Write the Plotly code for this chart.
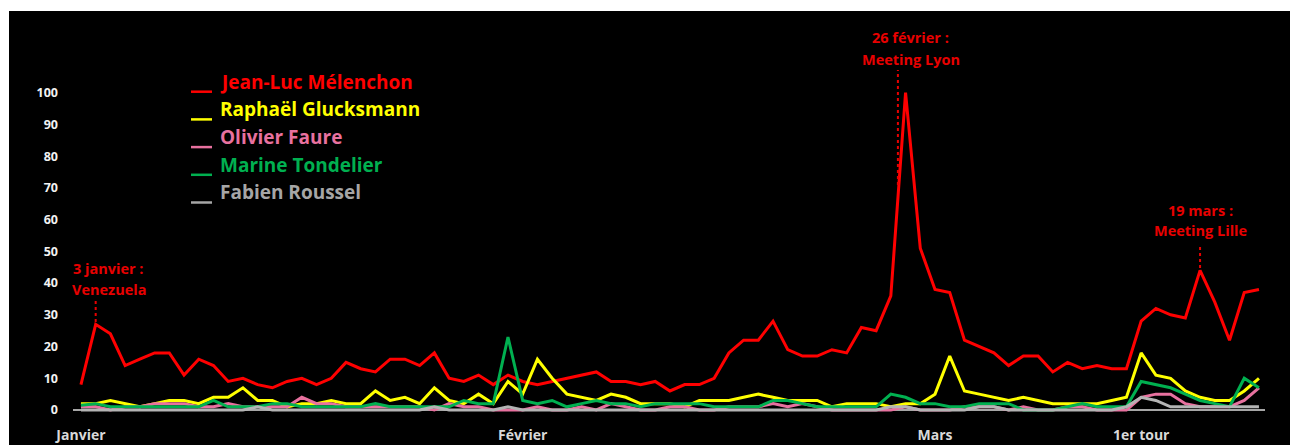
import pandas as pd
import plotly.graph_objects as go

# ---------------- data ----------------
dates = pd.date_range("2026-01-02", "2026-03-23", freq="D")

melenchon = [8, 27, 24, 14, 16, 18, 18, 11, 16, 14,
             9, 10, 8, 7, 9, 10, 8, 10, 15, 13,
             12, 16, 16, 14, 18, 10, 9, 11, 8, 11,
             9, 8, 9, 10, 11, 12, 9, 9, 8, 9,
             6, 8, 8, 10, 18, 22, 22, 28, 19, 17,
             17, 19, 18, 26, 25, 36, 100, 51, 38, 37,
             22, 20, 18, 14, 17, 17, 12, 15, 13, 14,
             13, 13, 28, 32, 30, 29, 44, 34, 22, 37, 38]

glucksmann = [2, 2, 3, 2, 1, 2, 3, 3, 2, 4,
              4, 7, 3, 3, 1, 2, 2, 3, 2, 2,
              6, 3, 4, 2, 7, 3, 2, 5, 2, 9,
              5, 16, 10, 5, 4, 3, 5, 4, 2, 2,
              2, 1, 3, 3, 3, 4, 5, 4, 3, 3,
              3, 1, 2, 2, 2, 1, 2, 2, 5, 17,
              6, 5, 4, 3, 4, 3, 2, 2, 2, 2,
              3, 4, 18, 11, 10, 6, 4, 3, 3, 6, 10]

faure = [1, 1, 0, 1, 1, 2, 2, 2, 1, 1,
         2, 1, 1, 1, 1, 4, 2, 2, 1, 1,
         1, 1, 1, 1, 0, 2, 1, 1, 0, 0,
         0, 1, 0, 0, 1, 0, 2, 1, 0, 0,
         1, 1, 0, 0, 1, 1, 1, 2, 1, 2,
         1, 0, 0, 0, 0, 0, 1, 0, 0, 0,
         1, 1, 1, 0, 1, 0, 0, 1, 1, 0,
         0, 0, 4, 5, 5, 2, 1, 1, 1, 3, 7]

tondelier = [1.5, 2, 1, 1, 1, 1, 1, 1, 1, 3,
             1, 1, 1, 2, 2, 1, 1, 1, 1, 1,
             2, 1, 1, 1, 1, 1, 3, 2, 2, 23,
             3, 2, 3, 1, 2, 3, 2, 2, 1, 2,
             2, 2, 2, 1, 1, 1, 1, 3, 3, 2,
             1, 1, 1, 1, 1, 5, 4, 2, 2, 1,
             1, 2, 2, 2, 0, 0, 0, 1, 2, 1,
             1, 1, 9, 8, 7, 5, 3, 2, 1, 10, 7]

roussel = [0, 0, 0, 0, 0, 0, 0, 0, 0, 0,
           0, 0, 1, 0, 0, 0, 0, 0, 0, 0,
           0, 0, 0, 0, 1, 0, 0, 0, 0, 1,
           0, 0, 0, 0, 0, 0, 0, 0, 0, 0,
           0, 0, 0, 0, 0, 0, 0, 0, 0, 0,
           0, 0, 0, 0, 0, 1, 1, 0, 0, 0,
           0, 1, 1, 0, 0, 0, 0, 0, 0, 0,
           0, 1, 4, 3, 1, 1, 1, 1, 1, 1, 1]

names = ["Jean-Luc Mélenchon", "Raphaël Glucksmann", "Olivier Faure",
         "Marine Tondelier", "Fabien Roussel"]
series = [melenchon, glucksmann, faure, tondelier, roussel]
colors = ["#ff0000", "#ffff00", "#e8719f", "#00b050", "#b4b4b4"]
legend_colors = ["#ff0000", "#ffff00", "#e8719f", "#00b050", "#a6a6a6"]

tick_dates = ["2026-01-02", "2026-02-01", "2026-03-01", "2026-03-15"]
tick_labels = ["Janvier", "Février", "Mars", "1er tour"]

events = [("2026-01-03", "3 janvier :", "Venezuela"),
          ("2026-02-26", "26 février :", "Meeting Lyon"),
          ("2026-03-19", "19 mars :", "Meeting Lille")]

# ---------------- layout geometry (pixels) ----------------
W, H = 1290, 445
L, R, T, B = 73, 25, 30, 32
PW, PH = W - L - R, H - T - B
ZERO_PY = 410
PX_PER_UNIT = 3.173


def pxx(px):
    return (px - L) / PW


def pxy(py):
    return (H - B - py) / PH


def val_of_py(py):
    return (ZERO_PY - py) / PX_PER_UNIT


fig = go.Figure()
for name, vals, col in zip(names, series, colors):
    fig.add_trace(go.Scatter(x=dates, y=vals, mode="lines", name=name,
                             line=dict(color=col, width=3), showlegend=False,
                             hoverinfo="skip"))

day = pd.Timedelta(days=1)
x0 = dates[0] - 0.54 * day
x1 = dates[-1] + 0.41 * day

red_txt = "#e80000"
annots = []
shapes = []
# event annotations: (text centre x px, line1 y px, line2 y px, connector day offset, connector top py, bottom py)
ev_conf = [
    (108.5, 268, 289, 0.0, 299, 322),
    (910.5, 37.7, 59, 0.48, 70, 185),
    (1200, 210, 230.7, 0.0, 246.7, 268),
]
ev_font = dict(family="Open Sans", size=14.5, color=red_txt, weight="bold")
for (d, t1, t2), (cx, y1, y2, dx, ctop, cbot) in zip(events, ev_conf):
    dt = pd.Timestamp(d)
    for txt, py in ((t1, y1), (t2, y2)):
        annots.append(dict(x=pxx(cx), y=pxy(py), xref="paper", yref="paper", text=txt,
                           showarrow=False, xanchor="center", yanchor="middle", font=ev_font))
    shapes.append(dict(type="line", xref="x", yref="y", x0=dt + dx * day, x1=dt + dx * day,
                       y0=val_of_py(cbot), y1=val_of_py(ctop),
                       line=dict(color=red_txt, width=2, dash="dot")))

# custom legend: coloured dash + coloured text
row_text_py = [81.7, 109.4, 137.1, 164.8, 192.5]
for name, col, py in zip(names, legend_colors, row_text_py):
    annots.append(dict(x=pxx(218), y=pxy(py), xref="paper", yref="paper",
                       text=name, showarrow=False, xanchor="left", yanchor="middle",
                       font=dict(family="Open Sans", size=19, color=col, weight="bold")))
    shapes.append(dict(type="line", xref="paper", yref="paper", x0=pxx(191), x1=pxx(212),
                       y0=pxy(py + 10), y1=pxy(py + 10), line=dict(color=col, width=2.5)))

# white outer strips (top and left)
shapes.append(dict(type="rect", xref="paper", yref="paper", x0=pxx(-5), x1=pxx(1300),
                   y0=pxy(11), y1=pxy(-5), fillcolor="white", line=dict(width=0), layer="above"))
shapes.append(dict(type="rect", xref="paper", yref="paper", x0=pxx(-5), x1=pxx(9),
                   y0=pxy(450), y1=pxy(-5), fillcolor="white", line=dict(width=0), layer="above"))

fig.update_layout(
    width=W, height=H,
    margin=dict(l=L, r=R, t=T, b=B, pad=0, autoexpand=False),
    paper_bgcolor="black", plot_bgcolor="black",
    annotations=annots, shapes=shapes,
    xaxis=dict(range=[x0, x1], tickvals=tick_dates, ticktext=tick_labels,
               showgrid=False, zeroline=False, showline=False, ticks="",
               ticklabelstandoff=12, automargin=False,
               tickfont=dict(family="Open Sans", size=14, color="#d9d9d9", weight="bold")),
    yaxis=dict(range=[val_of_py(H - B), val_of_py(T)],
               tickvals=[0, 10, 20, 30, 40, 50, 60, 70, 80, 90, 100],
               showgrid=False, zeroline=True, zerolinecolor="#a6a6a6", zerolinewidth=2,
               showline=False, ticks="", ticklabelstandoff=14, automargin=False,
               tickfont=dict(family="Open Sans", size=12.5, color="#f2f2f2", weight="bold")),
)

fig.write_html("out.html", config={"displayModeBar": False},
               post_script="document.body.style.margin='0';document.body.style.overflow='hidden';")
